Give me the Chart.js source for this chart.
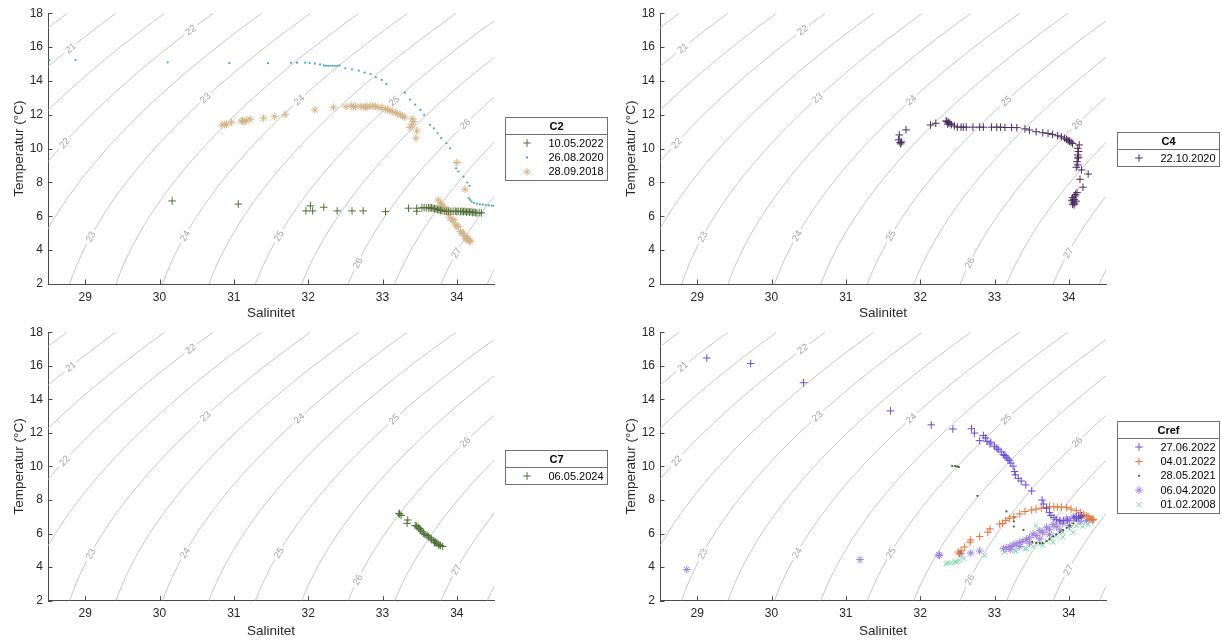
<!DOCTYPE html>
<html>
<head>
<meta charset="utf-8">
<script src="https://cdn.jsdelivr.net/npm/chart.js@4.4.1/dist/chart.umd.min.js"></script>
<style>
  html, body { margin: 0; padding: 0; background: #fff; }
  body { width: 1222px; height: 641px; position: relative; overflow: hidden; }
  canvas { position: absolute; }
</style>
</head>
<body>
<canvas id="c2" width="611" height="320" style="left:0;top:0"></canvas>
<canvas id="c4" width="610" height="320" style="left:612px;top:0"></canvas>
<canvas id="c7" width="611" height="321" style="left:0;top:320px"></canvas>
<canvas id="cref" width="610" height="321" style="left:612px;top:320px"></canvas>
<script>
// axes
const salTicks = [29, 30, 31, 32, 33, 34];
const tempTicks = [2, 4, 6, 8, 10, 12, 14, 16, 18];

// isopycnals (sigma-t) and where the labels sit (sigma, temperature)
const sigmaLevels = [20.5, 21, 21.5, 22, 22.5, 23, 23.5, 24, 24.5, 25, 25.5, 26, 26.5, 27, 27.5];
const labelSigma = [21, 22, 23, 24, 25, 26, 22, 23, 24, 25, 26, 27];
const labelTemp = [15.95, 17.01, 13.0, 12.88, 12.82, 11.46, 10.34, 4.79, 4.85, 4.85, 3.25, 3.84];

// C2 station [salinity, temperature]
const c2_10052022 = [[30.17,6.91],[31.06,6.72],[31.97,6.32],[32.03,6.62],[32.06,6.32],[32.21,6.54],[32.39,6.32],
  [32.59,6.32],[32.74,6.32],[33.04,6.28],[33.35,6.48],[33.46,6.48],[33.46,6.30],[33.53,6.5],[33.56,6.52],[33.59,6.5],
  [33.62,6.52],[33.64,6.48],[33.66,6.5],[33.68,6.47],[33.7,6.45],[33.72,6.44],[33.74,6.4],[33.76,6.38],[33.78,6.35],
  [33.8,6.33],[33.83,6.3],[33.86,6.3],[33.89,6.3],[33.92,6.28],[33.95,6.3],[33.98,6.3],[34.0,6.28],[34.02,6.3],
  [34.05,6.28],[34.07,6.3],[34.09,6.27],[34.11,6.3],[34.13,6.25],[34.15,6.28],[34.17,6.25],[34.19,6.27],[34.21,6.22],
  [34.23,6.25],[34.25,6.22],[34.27,6.2],[34.3,6.22],[34.33,6.2]];
const c2_26082020 = [[28.52,15.24],[28.87,15.24],[30.11,15.1],[30.94,15.05],[31.46,15.05],[31.77,15.08],[31.85,15.08],
  [31.96,15.08],[32.02,15.06],[32.09,15.03],[32.16,14.98],[32.21,14.92],[32.24,14.9],[32.27,14.9],[32.3,14.9],
  [32.33,14.9],[32.36,14.9],[32.39,14.9],[32.42,14.92],[32.5,14.75],[32.59,14.69],[32.68,14.61],[32.76,14.49],
  [32.84,14.41],[32.91,14.22],[32.99,14.06],[33.05,13.82],[33.3,13.31],[33.37,12.9],[33.44,12.6],[33.51,12.29],
  [33.56,11.99],[33.64,11.4],[33.69,11.2],[33.74,10.91],[33.79,10.62],[33.86,10.32],[33.91,10.02],[33.99,8.84],
  [34.02,8.65],[34.09,8.35],[34.14,8.0],[34.17,7.8],[34.16,7.07],[34.18,6.97],[34.2,6.87],[34.23,6.8],[34.27,6.75],
  [34.31,6.71],[34.35,6.69],[34.39,6.67],[34.43,6.65],[34.47,6.63],[34.5,6.62]];
const c2_28092018 = [[30.84,11.4],[30.88,11.42],[30.9,11.44],[30.97,11.56],[31.1,11.62],[31.12,11.66],[31.14,11.6],
  [31.17,11.66],[31.22,11.74],[31.4,11.8],[31.55,11.89],[31.69,12.03],[32.09,12.29],[32.34,12.45],[32.51,12.48],
  [32.58,12.52],[32.61,12.5],[32.64,12.48],[32.7,12.5],[32.74,12.48],[32.77,12.46],[32.79,12.48],[32.83,12.5],
  [32.87,12.52],[32.9,12.5],[32.94,12.45],[32.99,12.43],[33.04,12.33],[33.07,12.3],[33.1,12.25],[33.13,12.2],
  [33.17,12.13],[33.2,12.06],[33.24,11.99],[33.27,11.92],[33.3,11.86],[33.4,11.76],[33.42,11.6],[33.4,11.4],
  [33.37,11.25],[33.46,11.05],[33.45,10.62],[34.0,9.18],[34.11,7.6],[33.75,6.97],[33.78,6.75],[33.8,6.68],
  [33.82,6.55],[33.85,6.4],[33.87,6.38],[33.89,6.1],[33.91,5.89],[33.94,5.75],[33.96,5.79],[33.98,5.5],[34.0,5.4],
  [34.02,5.4],[34.05,5.1],[34.07,5.0],[34.09,5.0],[34.11,4.8],[34.13,4.71],[34.14,4.71],[34.15,4.65],[34.17,4.57],
  [34.18,4.51],[34.14,4.62],[34.12,4.68]];

// C4 station
const c4_22102020 = [[31.71,10.52],[31.72,10.81],[31.73,10.36],[31.75,10.4],[31.74,10.28],[31.81,11.11],[32.14,11.4],
  [32.21,11.5],[32.35,11.64],[32.36,11.6],[32.38,11.55],[32.4,11.5],[32.37,11.45],[32.42,11.42],[32.46,11.34],
  [32.5,11.27],[32.55,11.27],[32.58,11.27],[32.62,11.27],[32.71,11.27],[32.8,11.27],[32.85,11.27],[32.96,11.27],
  [33.03,11.27],[33.08,11.27],[33.14,11.25],[33.23,11.25],[33.3,11.24],[33.41,11.17],[33.47,11.1],[33.56,11.0],
  [33.65,10.94],[33.72,10.9],[33.78,10.84],[33.85,10.76],[33.9,10.7],[33.94,10.62],[33.97,10.55],[33.99,10.48],
  [34.01,10.44],[34.03,10.38],[34.05,10.3],[34.14,10.22],[34.12,10.02],[34.13,9.83],[34.12,9.63],[34.13,9.5],
  [34.12,9.44],[34.11,9.23],[34.12,9.04],[34.1,8.9],[34.17,8.74],[34.26,8.5],[34.15,8.19],[34.19,7.72],[34.11,7.4],
  [34.09,7.3],[34.08,7.2],[34.05,7.1],[34.07,7.0],[34.04,6.95],[34.06,6.85],[34.08,6.78],[34.05,6.72],[34.07,6.68],
  [34.1,6.9]];

// C7 station
const c7_06052024 = [[33.23,7.17],[33.25,7.08],[33.22,7.2],[33.34,6.81],[33.33,6.61],[33.44,6.48],[33.46,6.45],
  [33.48,6.38],[33.5,6.3],[33.51,6.22],[33.53,6.12],[33.55,6.02],[33.57,5.95],[33.6,5.88],[33.62,5.8],[33.64,5.74],
  [33.66,5.66],[33.69,5.58],[33.71,5.5],[33.73,5.43],[33.75,5.36],[33.78,5.29],[33.81,5.23],[33.76,5.3],[33.7,5.45]];

// Cref station
const cref_27062022 = [[29.13,16.46],[29.72,16.13],[30.43,14.99],[31.6,13.31],[32.15,12.48],[32.44,12.23],[32.69,12.25],
  [32.73,11.99],[32.85,11.85],[32.8,11.54],[32.88,11.7],[32.9,11.5],[32.94,11.34],[32.95,11.45],[33.0,11.2],
  [33.03,11.1],[33.05,11.0],[33.09,10.87],[33.12,10.7],[33.14,10.65],[33.16,10.55],[33.18,10.45],[33.2,10.36],
  [33.22,10.2],[33.25,10.02],[33.27,9.7],[33.28,9.5],[33.32,9.29],[33.36,9.13],[33.42,8.9],[33.5,8.54],[33.64,8.0],
  [33.66,7.76],[33.7,7.5],[33.74,7.25],[33.76,7.07],[33.8,6.95],[33.83,6.83],[33.88,6.77],[33.93,6.77],[33.98,6.8],
  [34.07,6.92],[34.13,7.0],[34.17,7.07],[34.1,7.0]];
const cref_04012022 = [[32.51,4.9],[32.53,4.8],[32.55,5.0],[32.6,5.2],[32.67,5.49],[32.68,5.62],[32.8,5.82],[32.91,6.08],
  [32.94,6.28],[33.07,6.57],[33.11,6.61],[33.15,6.77],[33.2,6.91],[33.26,7.0],[33.34,7.17],[33.41,7.32],[33.5,7.4],
  [33.56,7.46],[33.63,7.52],[33.7,7.55],[33.74,7.6],[33.8,7.6],[33.85,7.58],[33.9,7.58],[33.97,7.55],[34.03,7.46],
  [34.1,7.36],[34.16,7.25],[34.2,7.15],[34.26,7.01],[34.3,6.87],[34.32,6.8],[34.28,6.9],[34.24,7.05],[34.33,6.85]];
const cref_28052021 = [[32.43,10.02],[32.47,10.02],[32.5,10.0],[32.52,9.96],[32.77,8.25],[33.16,7.32],[33.27,6.97],
  [33.26,6.73],[33.26,6.42],[33.39,6.22],[32.55,4.9],[33.51,5.49],[33.56,5.44],[33.61,5.43],[33.65,5.43],[33.7,5.55],
  [33.74,5.65],[33.79,5.83],[33.83,5.95],[33.88,6.08],[33.92,6.2],[33.97,6.34],[34.01,6.47],[34.06,6.61],[34.1,6.77],
  [34.15,6.93],[34.19,7.0]];
const cref_06042020 = [[28.86,3.86],[31.19,4.45],[32.25,4.74],[32.26,4.7],[32.55,4.8],[32.68,4.84],[32.8,4.96],
  [33.12,5.1],[33.16,5.15],[33.21,5.23],[33.25,5.3],[33.29,5.39],[33.34,5.47],[33.38,5.55],[33.43,5.65],[33.47,5.75],
  [33.56,5.88],[33.65,6.06],[33.74,6.22],[33.83,6.42],[33.92,6.61],[34.01,6.77],[34.1,6.93],[34.17,7.01],[34.24,6.77],
  [33.52,5.98],[33.61,6.18],[33.7,6.38],[33.79,6.53],[33.88,6.73],[33.97,6.87],[34.06,7.01],
  [33.21,5.04],[33.34,5.23],[33.47,5.43],[33.61,5.69],[33.74,5.94],[33.88,6.22],[34.01,6.47],[34.15,6.73]];
const cref_01022008 = [[32.35,4.21],[32.38,4.25],[32.42,4.25],[32.47,4.31],[32.49,4.31],[32.53,4.41],[32.59,4.51],
  [32.87,4.7],[33.14,4.9],[33.27,5.0],[33.29,4.96],[33.41,5.1],[33.43,5.1],[33.52,5.23],[33.56,6.47],[33.61,5.39],
  [33.7,5.55],[33.76,5.75],[33.83,5.88],[33.92,6.08],[34.01,6.28],[34.1,6.47],[34.17,6.67],[34.24,6.77],[34.28,6.93],
  [34.26,6.53],[33.65,5.29],[33.79,5.49],[33.92,5.79],[34.06,6.08],[34.19,6.42]];

const FONT = '"Liberation Sans", Arial, Helvetica, sans-serif';
const textColor = '#262626';
const axisColor = '#4a4a4a';

const markerStyles = {
  plus: { pointStyle: 'cross', pointRadius: 3.8, borderWidth: 1 },
  dot: { pointStyle: 'circle', pointRadius: 1.1, borderWidth: 0 },
  star: { pointStyle: 'star', pointRadius: 3.9, borderWidth: 1 },
  ex: { pointStyle: 'crossRot', pointRadius: 3.6, borderWidth: 1 }
};

// UNESCO EOS-80 density at p = 0, minus 1000
function sigmaT(S, T) {
  const rw = 999.842594 + 6.793952e-2 * T - 9.095290e-3 * T * T + 1.001685e-4 * T ** 3
    - 1.120083e-6 * T ** 4 + 6.536332e-9 * T ** 5;
  const A = 8.24493e-1 - 4.0899e-3 * T + 7.6438e-5 * T * T - 8.2467e-7 * T ** 3 + 5.3875e-9 * T ** 4;
  const B = -5.72466e-3 + 1.0227e-4 * T - 1.6546e-6 * T * T;
  const C = 4.8314e-4;
  return rw + A * S + B * S ** 1.5 + C * S * S - 1000;
}

function salinityAt(sig, T) {
  let lo = 15, hi = 45;
  for (let i = 0; i < 50; i++) {
    const mid = (lo + hi) / 2;
    if (sigmaT(mid, T) < sig) lo = mid; else hi = mid;
  }
  return (lo + hi) / 2;
}

function isopycnal(sig) {
  const pts = [];
  for (let t = 2; t <= 18.001; t += 0.25) pts.push({ x: salinityAt(sig, t), y: t });
  return pts;
}

function drawContourLabels(chart) {
  const ctx = chart.ctx, xs = chart.scales.x, ys = chart.scales.y;
  ctx.font = '9.5px ' + FONT;
  ctx.textAlign = 'center';
  ctx.textBaseline = 'middle';
  labelSigma.forEach((sig, i) => {
    const t = labelTemp[i];
    const x = xs.getPixelForValue(salinityAt(sig, t));
    const y = ys.getPixelForValue(t);
    const x1 = xs.getPixelForValue(salinityAt(sig, t - 0.2)), y1 = ys.getPixelForValue(t - 0.2);
    const x2 = xs.getPixelForValue(salinityAt(sig, t + 0.2)), y2 = ys.getPixelForValue(t + 0.2);
    const txt = String(sig);
    ctx.save();
    ctx.translate(x, y);
    ctx.rotate(Math.atan2(y2 - y1, x2 - x1));
    const w = ctx.measureText(txt).width + 5;
    ctx.fillStyle = '#fff';
    ctx.fillRect(-w / 2, -4, w, 8);
    ctx.fillStyle = '#a3a3a3';
    ctx.fillText(txt, 0, 0.5);
    ctx.restore();
  });
}

function drawInwardTicks(chart) {
  const { ctx, chartArea: a } = chart;
  const xs = chart.scales.x, ys = chart.scales.y;
  ctx.save();
  ctx.strokeStyle = axisColor;
  ctx.lineWidth = 1;
  ctx.beginPath();
  xs.ticks.forEach(t => {
    const px = Math.round(xs.getPixelForValue(t.value)) + 0.5;
    ctx.moveTo(px, a.bottom);
    ctx.lineTo(px, a.bottom - 4.5);
  });
  ys.ticks.forEach(t => {
    const py = Math.round(ys.getPixelForValue(t.value)) + 0.5;
    ctx.moveTo(a.left, py);
    ctx.lineTo(a.left + 4.5, py);
  });
  ctx.stroke();
  ctx.restore();
}

function drawLegendBox(chart, title) {
  const { ctx, chartArea: a } = chart;
  const items = chart.data.datasets.filter(d => !d.isContour);
  const w = 102, h = 19.5 + items.length * 14.4;
  const left = Math.round(a.right + 11) + 0.5;
  const top = Math.round((a.top + a.bottom) / 2 - h / 2) + 0.5;
  ctx.save();
  ctx.fillStyle = '#fff';
  ctx.fillRect(left, top, w, h);
  ctx.strokeStyle = '#707070';
  ctx.lineWidth = 1;
  ctx.strokeRect(left, top, w, Math.round(h));
  const sep = top + 17;
  ctx.beginPath();
  ctx.moveTo(left, sep);
  ctx.lineTo(left + w, sep);
  ctx.stroke();
  ctx.fillStyle = '#000';
  ctx.font = 'bold 11px ' + FONT;
  ctx.textAlign = 'center';
  ctx.textBaseline = 'middle';
  ctx.fillText(title, left + w / 2, top + 9);
  ctx.font = '11px ' + FONT;
  ctx.textAlign = 'left';
  items.forEach((d, i) => {
    const cy = sep + 8.5 + i * 14.4;
    ctx.fillStyle = d.backgroundColor;
    ctx.strokeStyle = d.borderColor;
    Chart.helpers.drawPoint(ctx, {
      pointStyle: d.pointStyle, radius: d.pointRadius, borderWidth: d.borderWidth, rotation: 0
    }, left + 21.5, cy);
    ctx.fillStyle = '#000';
    ctx.fillText(d.label, left + 43, cy + 0.5);
  });
  ctx.restore();
}

const tsPlugin = {
  id: 'tsExtras',
  afterDatasetDraw(chart, args, opts) {
    if (args.index === opts.firstContour) drawContourLabels(chart);
  },
  afterDraw(chart, args, opts) {
    drawInwardTicks(chart);
    drawLegendBox(chart, opts.title);
  }
};

function makeChart(id, title, series, pad, xAxisH) {
  const datasets = series.map(s => Object.assign({
    label: s.label,
    data: s.data.map(p => ({ x: p[0], y: p[1] })),
    borderColor: s.color,
    backgroundColor: s.color,
    showLine: false
  }, markerStyles[s.marker]));
  sigmaLevels.forEach(sig => {
    datasets.push({
      label: 'sigma ' + sig,
      isContour: true,
      data: isopycnal(sig),
      showLine: true,
      borderColor: '#b8b8b8',
      borderWidth: 0.8,
      pointRadius: 0,
      fill: false,
      tension: 0
    });
  });

  return new Chart(document.getElementById(id), {
    type: 'scatter',
    data: { datasets },
    options: {
      responsive: false,
      animation: false,
      events: [],
      layout: { padding: pad },
      plugins: {
        legend: { display: false },
        tooltip: { enabled: false },
        tsExtras: { title, firstContour: series.length }
      },
      scales: {
        x: {
          type: 'linear', min: 28.5, max: 34.5,
          afterBuildTicks: s => { s.ticks = salTicks.map(v => ({ value: v })); },
          afterFit: s => { s.height = xAxisH; },
          grid: { display: false, drawTicks: false },
          border: { display: true, color: axisColor, width: 1 },
          ticks: { color: textColor, font: { family: FONT, size: 12 }, padding: 6,
                   autoSkip: false, maxRotation: 0, callback: v => String(v) },
          title: { display: true, text: 'Salinitet', color: textColor,
                   font: { family: FONT, size: 13.5, lineHeight: 1 }, padding: { top: 0, bottom: 0 } }
        },
        y: {
          type: 'linear', min: 2, max: 18,
          afterBuildTicks: s => { s.ticks = tempTicks.map(v => ({ value: v })); },
          afterFit: s => { s.width = 48; },
          grid: { display: false, drawTicks: false },
          border: { display: true, color: axisColor, width: 1 },
          ticks: { color: textColor, font: { family: FONT, size: 12 }, padding: 5,
                   autoSkip: false, callback: v => String(v) },
          title: { display: true, text: 'Temperatur (°C)', color: textColor,
                   font: { family: FONT, size: 13.5, lineHeight: 1 }, padding: { top: 12.5, bottom: 0 } }
        }
      }
    },
    plugins: [tsPlugin]
  });
}

makeChart('c2', 'C2', [
  { label: '10.05.2022', data: c2_10052022, marker: 'plus', color: '#52703a' },
  { label: '26.08.2020', data: c2_26082020, marker: 'dot', color: '#4ba3c6' },
  { label: '28.09.2018', data: c2_28092018, marker: 'star', color: '#d4b48a' }
], { top: 13.3, right: 117, bottom: 0, left: 0 }, 36);

makeChart('c4', 'C4', [
  { label: '22.10.2020', data: c4_22102020, marker: 'plus', color: '#4b2d5e' }
], { top: 13.3, right: 116, bottom: 0, left: 0 }, 36);

makeChart('c7', 'C7', [
  { label: '06.05.2024', data: c7_06052024, marker: 'plus', color: '#4e7035' }
], { top: 10, right: 117, bottom: 2.5, left: 0 }, 37.8);

makeChart('cref', 'Cref', [
  { label: '27.06.2022', data: cref_27062022, marker: 'plus', color: '#6a4fd6' },
  { label: '04.01.2022', data: cref_04012022, marker: 'plus', color: '#e0743a' },
  { label: '28.05.2021', data: cref_28052021, marker: 'dot', color: '#3f5a2e' },
  { label: '06.04.2020', data: cref_06042020, marker: 'star', color: '#9d82dd' },
  { label: '01.02.2008', data: cref_01022008, marker: 'ex', color: '#79d6a5' }
], { top: 10, right: 116, bottom: 2.5, left: 0 }, 37.8);
</script>
</body>
</html>
